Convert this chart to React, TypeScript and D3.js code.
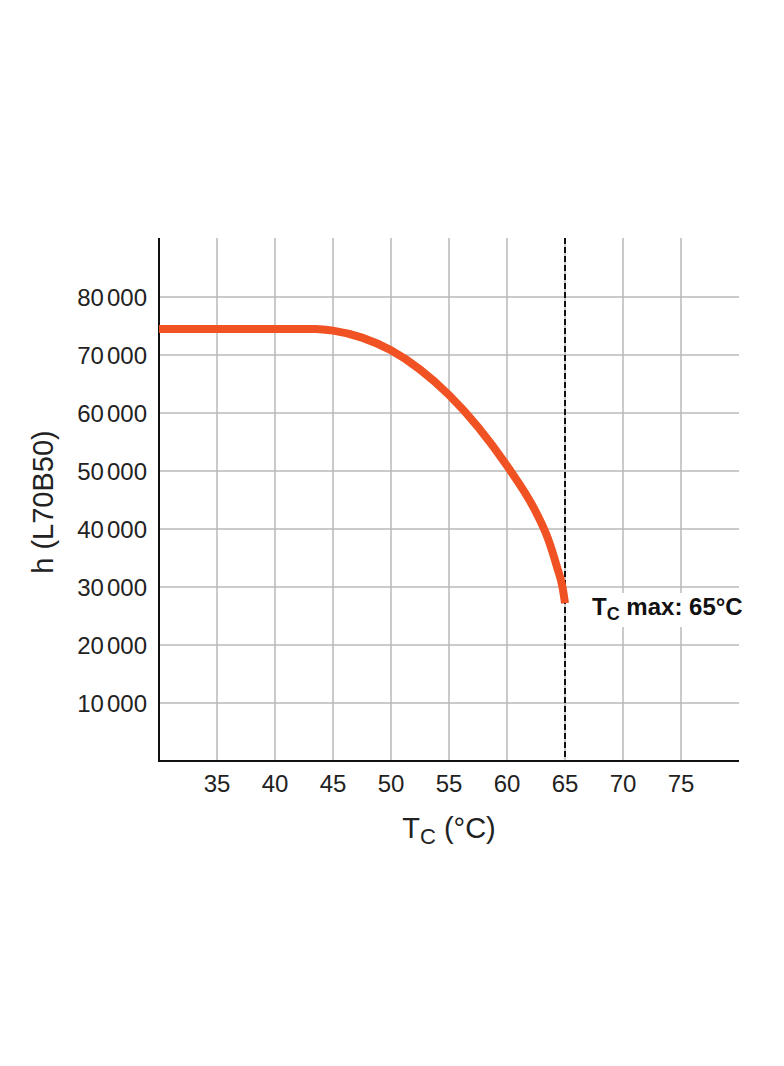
import * as d3 from "d3";
import React, { useRef, useEffect } from "react";

const width = 784;
const height = 1066;
const margin = { top: 239, right: 45, bottom: 305, left: 159 };

const xTicks = [35, 40, 45, 50, 55, 60, 65, 70, 75];
const yTicks = [10000, 20000, 30000, 40000, 50000, 60000, 70000, 80000];

// lifetime curve
const temps = [30, 43.5, 45, 47.5, 50, 52.5, 55, 57.5, 60, 62.5, 63.5, 64.3, 64.8, 65];
const hours = [74500, 74500, 74200, 73000, 70800, 67500, 63100, 57600, 50900, 42900, 38500, 33500, 29800, 27200];

const tcMax = 65;

const fontFamily = "'Liberation Sans', Arial, sans-serif";

const App = () => {
  const ref = useRef<SVGSVGElement>(null);

  useEffect(() => {
    const svg = d3.select(ref.current);
    svg.selectAll("*").remove();

    const x = d3.scaleLinear().domain([30, 80]).range([margin.left, width - margin.right]);
    const y = d3.scaleLinear().domain([0, 90000]).range([height - margin.bottom, margin.top]);
    const [x0, x1] = x.range();
    const [y0, y1] = y.range();

    const grid = svg.append("g").attr("stroke", "#b8b8b8").attr("stroke-width", 1.5);
    grid.selectAll(".vx").data(xTicks).join("line")
      .attr("x1", (d) => x(d)).attr("x2", (d) => x(d))
      .attr("y1", y0).attr("y2", y1 - 1);
    grid.selectAll(".hy").data(yTicks).join("line")
      .attr("x1", x0).attr("x2", x1)
      .attr("y1", (d) => y(d)).attr("y2", (d) => y(d));

    // tick labels
    svg.append("g").selectAll("text").data(xTicks).join("text")
      .attr("x", (d) => x(d)).attr("y", y0 + 31)
      .attr("text-anchor", "middle")
      .attr("font-family", fontFamily).attr("font-size", 24).attr("fill", "#222")
      .text((d) => d);

    const yl = svg.append("g").selectAll("text").data(yTicks).join("text")
      .attr("x", x0 - 12).attr("y", (d) => y(d) + 9)
      .attr("text-anchor", "end")
      .attr("font-family", fontFamily).attr("font-size", 24).attr("fill", "#222");
    yl.append("tspan").text((d) => String(Math.floor(d / 1000)));
    yl.append("tspan").attr("dx", 3).text("000");

    // dashed Tc max line
    svg.append("line")
      .attr("x1", x(tcMax)).attr("x2", x(tcMax))
      .attr("y1", y1 - 1).attr("y2", y0)
      .attr("stroke", "#111").attr("stroke-width", 2)
      .attr("stroke-dasharray", "6,3");

    // axes
    svg.append("path")
      .attr("d", `M${x0},${y1 - 1}V${y0}H${x1}`)
      .attr("fill", "none").attr("stroke", "#111").attr("stroke-width", 2);

    const line = d3.line<number>()
      .x((_, i) => x(temps[i]))
      .y((d) => y(d))
      .curve(d3.curveMonotoneX);

    svg.append("path")
      .datum(hours)
      .attr("d", line)
      .attr("fill", "none")
      .attr("stroke", "#f05223")
      .attr("stroke-width", 8);

    // Tc max label
    const lab = svg.append("g").attr("transform", `translate(${x(tcMax) + 27}, ${y(30000) + 28})`);
    lab.append("rect").attr("x", -4).attr("y", -22).attr("width", 162).attr("height", 34).attr("fill", "#fff");
    const t = lab.append("text")
      .attr("font-family", fontFamily).attr("font-size", 24).attr("font-weight", "bold").attr("fill", "#111");
    t.append("tspan").text("T");
    t.append("tspan").attr("font-size", 18).attr("dy", 5).text("C");
    t.append("tspan").attr("dy", -5).text(" max: 65°C");

    // axis titles
    const xt = svg.append("text")
      .attr("x", 449).attr("y", 838)
      .attr("text-anchor", "middle")
      .attr("font-family", fontFamily).attr("font-size", 29).attr("fill", "#222");
    xt.append("tspan").text("T");
    xt.append("tspan").attr("font-size", 22).attr("dy", 6).text("C");
    xt.append("tspan").attr("dy", -6).text(" (°C)");

    svg.append("text")
      .attr("transform", `translate(53, ${(y0 + y1) / 2 + 2}) rotate(-90)`)
      .attr("text-anchor", "middle")
      .attr("font-family", fontFamily).attr("font-size", 29).attr("fill", "#222")
      .text("h (L70B50)");
  }, []);

  return (
    <svg
      ref={ref}
      width={width}
      height={height}
      style={{ position: "absolute", left: 0, top: 0, background: "#fff" }}
    />
  );
};

export default App;
